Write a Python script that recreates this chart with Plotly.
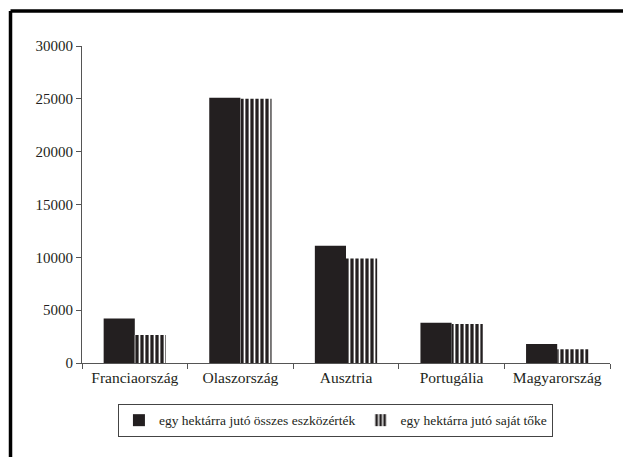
import plotly.graph_objects as go

categories = ["Franciaország", "Olaszország", "Ausztria", "Portugália", "Magyarország"]
total_assets = [4200, 25100, 11100, 3800, 1800]
own_capital = [2650, 25000, 9900, 3700, 1300]
series_names = ["egy hektárra jutó összes eszközérték", "egy hektárra jutó saját tőke"]
y_ticks = [0, 5000, 10000, 15000, 20000, 25000, 30000]

FONT = "Liberation Serif"
DARK = "#231f20"

fig = go.Figure()
fig.add_trace(go.Bar(
    x=categories, y=total_assets, name=series_names[0],
    marker=dict(color=DARK, line=dict(width=0)),
))
fig.add_trace(go.Bar(
    x=categories, y=own_capital, name=series_names[1],
    marker=dict(color=DARK, line=dict(width=0),
                pattern=dict(shape="|", fgcolor="#ffffff", bgcolor=DARK,
                             size=5, solidity=0.35, fillmode="replace")),
))

fig.update_layout(
    width=623, height=457,
    margin=dict(l=82, r=13, t=46, b=94),
    paper_bgcolor="white", plot_bgcolor="white",
    barmode="group", bargap=0.41, bargroupgap=0,
    font=dict(family=FONT, size=13, color="#231f20"),
    showlegend=True,
    legend=dict(
        orientation="h", x=0.480, xanchor="center", y=-0.129, yanchor="top",
        bordercolor="#444444", borderwidth=1, bgcolor="white",
        font=dict(family=FONT, size=13.5), itemwidth=30, traceorder="normal",
        tracegroupgap=0, itemsizing="constant",
    ),
    xaxis=dict(
        showline=True, linecolor="#555555", linewidth=1,
        ticks="outside", ticklen=5, tickcolor="#555555", tickson="boundaries",
        tickfont=dict(family=FONT, size=15.5), showgrid=False,
    ),
    yaxis=dict(
        range=[0, 30000], tickvals=y_ticks, tickformat="d", showline=True,
        linecolor="#555555", linewidth=1, ticks="outside", ticklen=5,
        tickcolor="#555555", showgrid=False, zeroline=False,
        tickfont=dict(family=FONT, size=15),
    ),
    shapes=[
        dict(type="line", xref="paper", yref="paper",
             x0=-0.1354, x1=1.1, y0=1.1104, y1=1.1104,
             line=dict(color="black", width=3.5)),
        dict(type="line", xref="paper", yref="paper",
             x0=-0.1354, x1=-0.1354, y0=1.1104, y1=-0.35,
             line=dict(color="black", width=3.5)),
    ],
)

fig.write_html("out.html", config={"displayModeBar": False},
               post_script="document.body.style.margin='0';document.body.style.padding='0';")
